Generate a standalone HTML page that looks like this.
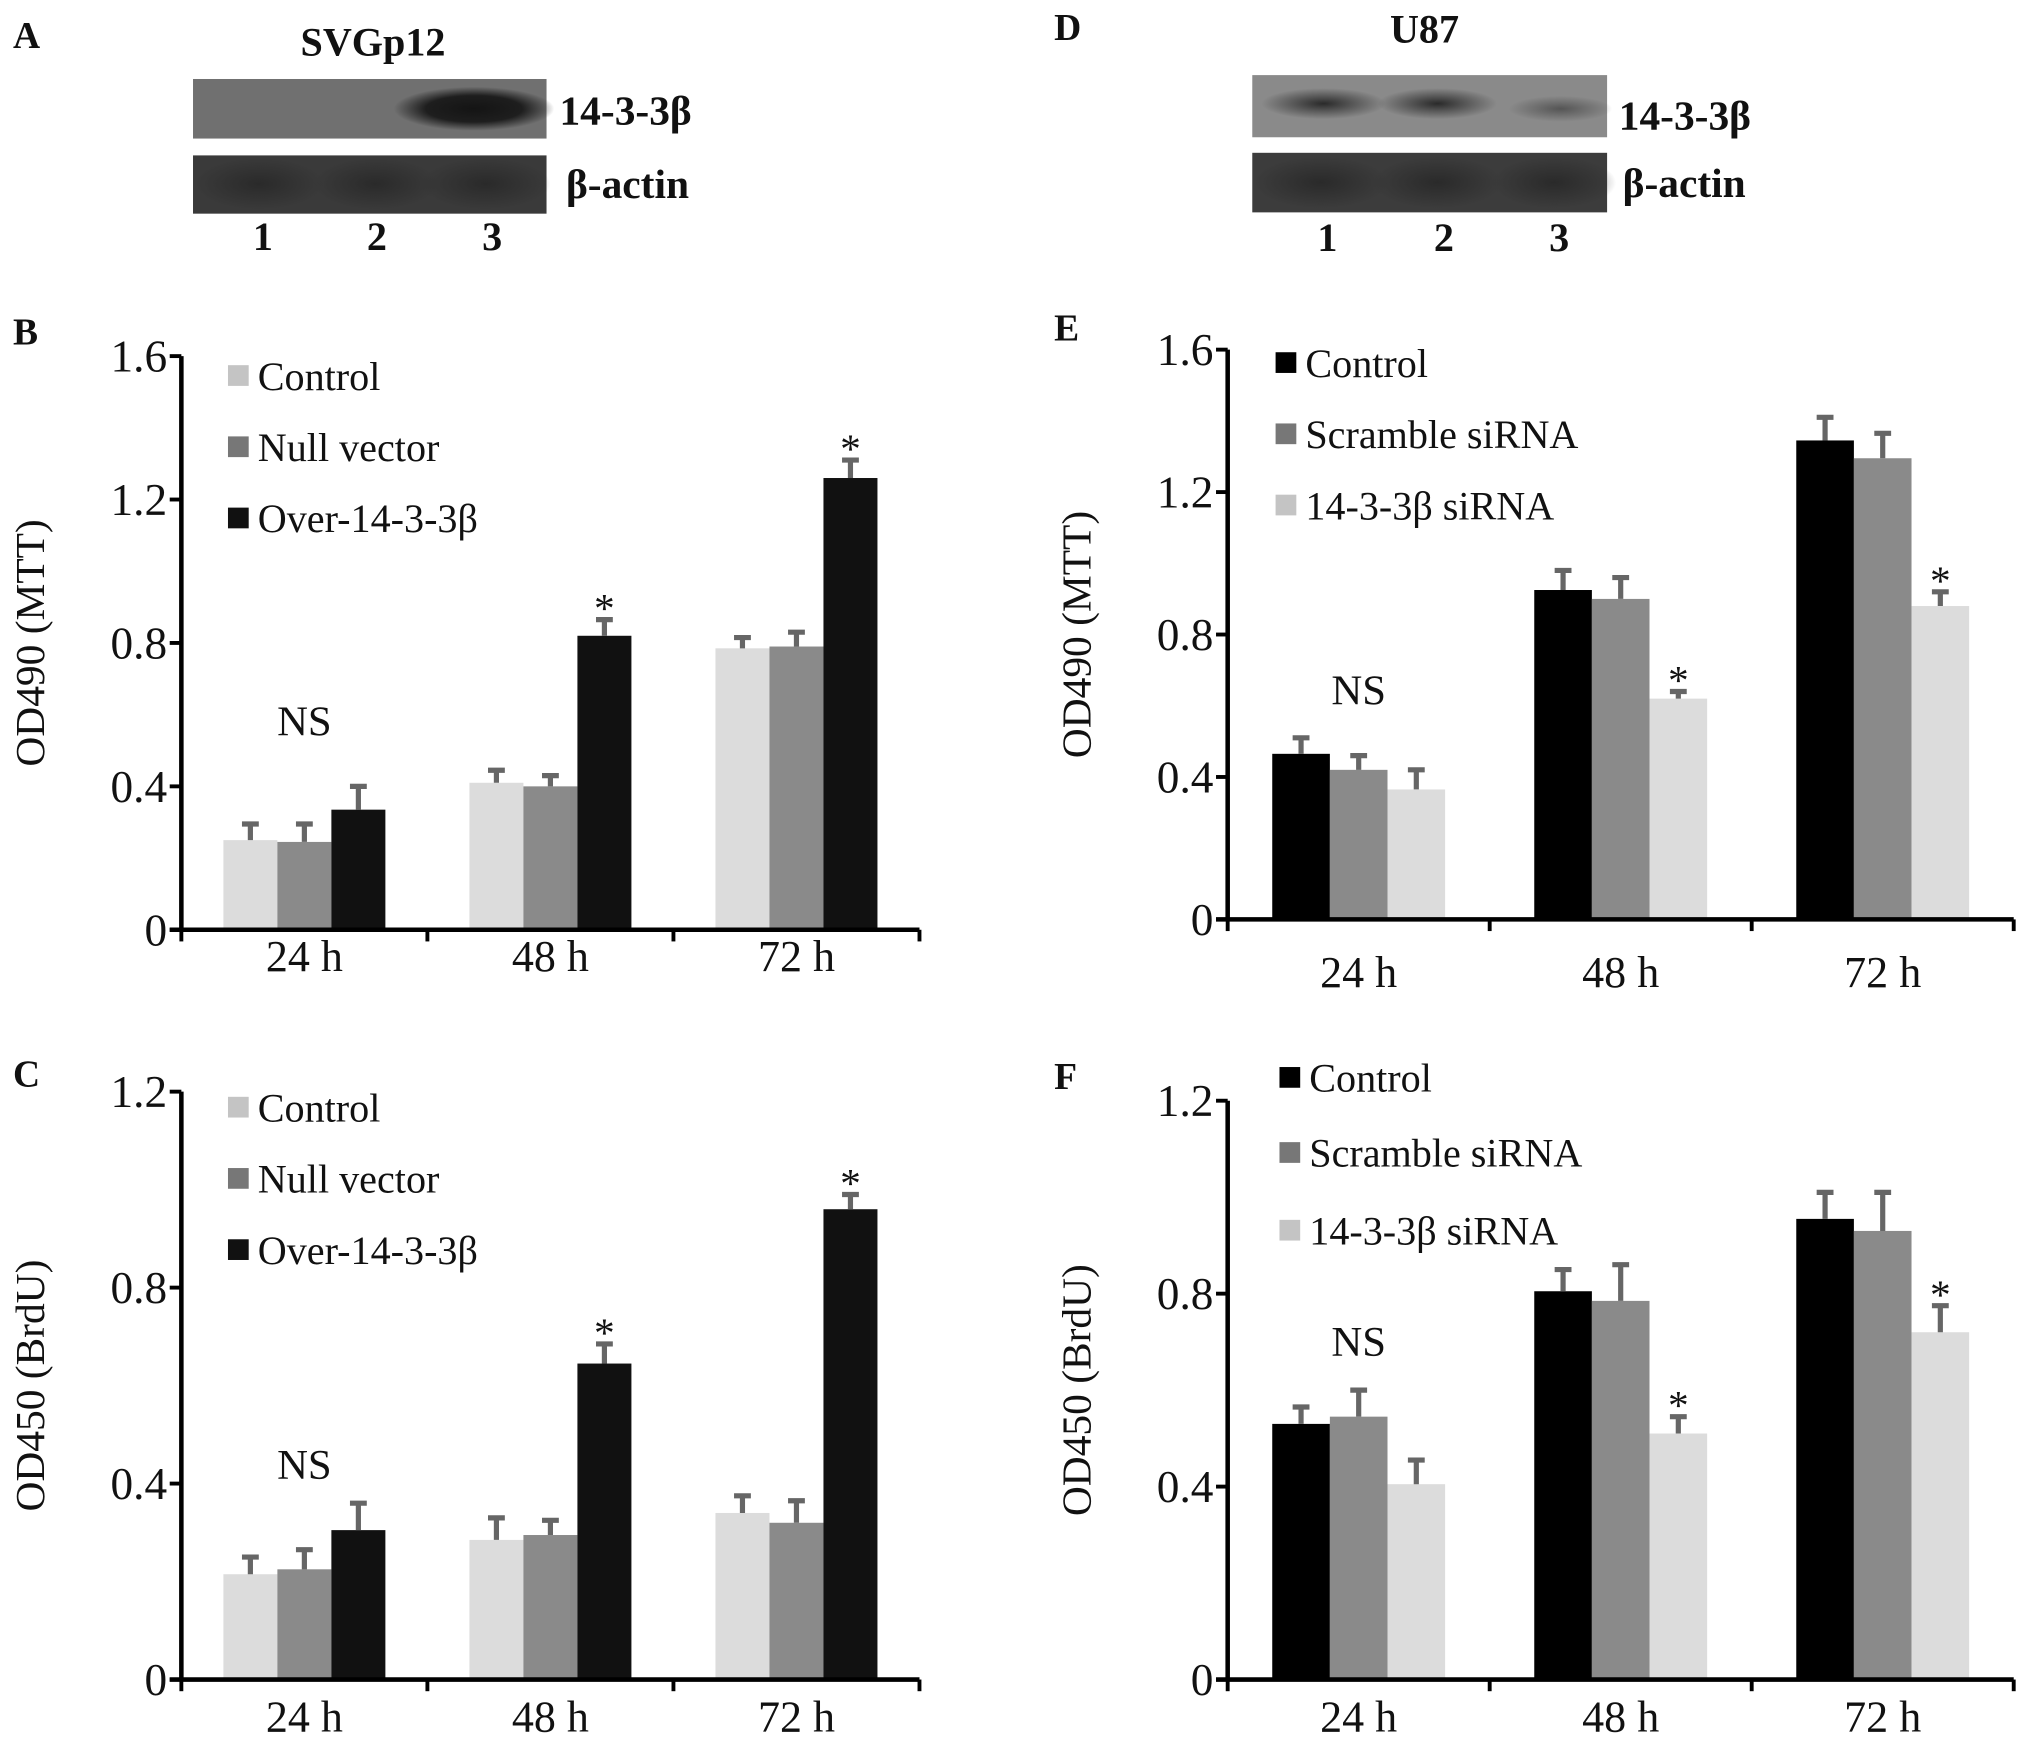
<!DOCTYPE html>
<html><head><meta charset="utf-8"><style>
html,body{margin:0;padding:0;background:#fff}
svg{display:block}
text{font-family:"Liberation Serif","DejaVu Serif",serif;fill:#111}
</style></head><body>
<svg id="fig" width="2031" height="1743" viewBox="0 0 1568.3 1346" xmlns="http://www.w3.org/2000/svg" font-family="Liberation Serif, serif">
<defs>
<radialGradient id="band" cx="50%" cy="50%" r="50%"><stop offset="0" stop-color="#141414"/><stop offset="0.6" stop-color="#1e1e1e"/><stop offset="1" stop-color="#1e1e1e" stop-opacity="0"/></radialGradient>
<radialGradient id="bandSoft" cx="50%" cy="50%" r="50%"><stop offset="0" stop-color="#2a2a2a"/><stop offset="1" stop-color="#2a2a2a" stop-opacity="0"/></radialGradient>
<radialGradient id="bandFaint" cx="50%" cy="50%" r="50%"><stop offset="0" stop-color="#555"/><stop offset="1" stop-color="#555" stop-opacity="0"/></radialGradient>
</defs>
<g>
<text x="10" y="37" font-size="29" font-weight="bold">A</text>
<text x="288" y="43" font-size="31" font-weight="bold" text-anchor="middle">SVGp12</text>
<rect x="149" y="61" width="273" height="46" fill="#707070"/>
<ellipse cx="366" cy="84" rx="62" ry="17" fill="url(#band)"/>
<rect x="149" y="120" width="273" height="45" fill="#3a3a3a"/>
<ellipse cx="200" cy="142" rx="50" ry="20" fill="url(#bandSoft)"/>
<ellipse cx="290" cy="142" rx="48" ry="20" fill="url(#bandSoft)"/>
<ellipse cx="375" cy="142" rx="50" ry="20" fill="url(#bandSoft)"/>
<text x="432" y="96" font-size="32" font-weight="bold">14-3-3β</text>
<text x="437" y="153" font-size="32" font-weight="bold">β-actin</text>
<text x="203" y="193" font-size="31" font-weight="bold" text-anchor="middle">1</text>
<text x="291" y="193" font-size="31" font-weight="bold" text-anchor="middle">2</text>
<text x="380" y="193" font-size="31" font-weight="bold" text-anchor="middle">3</text>
</g>
<g>
<text x="814" y="31" font-size="29" font-weight="bold">D</text>
<text x="1100" y="33" font-size="31" font-weight="bold" text-anchor="middle">U87</text>
<rect x="967" y="58" width="274" height="48" fill="#8a8a8a"/>
<ellipse cx="1022" cy="80" rx="48" ry="12" fill="url(#bandSoft)"/>
<ellipse cx="1110" cy="80" rx="46" ry="12" fill="url(#bandSoft)"/>
<ellipse cx="1205" cy="84" rx="40" ry="10" fill="url(#bandFaint)"/>
<rect x="967" y="118" width="274" height="46" fill="#3c3c3c"/>
<ellipse cx="1020" cy="141" rx="52" ry="20" fill="url(#bandSoft)"/>
<ellipse cx="1110" cy="141" rx="50" ry="20" fill="url(#bandSoft)"/>
<ellipse cx="1200" cy="141" rx="48" ry="20" fill="url(#bandSoft)"/>
<text x="1250" y="100" font-size="32" font-weight="bold">14-3-3β</text>
<text x="1253" y="152" font-size="32" font-weight="bold">β-actin</text>
<text x="1025" y="194" font-size="31" font-weight="bold" text-anchor="middle">1</text>
<text x="1115" y="194" font-size="31" font-weight="bold" text-anchor="middle">2</text>
<text x="1204" y="194" font-size="31" font-weight="bold" text-anchor="middle">3</text>
</g>
<g id="charts"></g>
</svg>
<script>
const categories = ["24 h", "48 h", "72 h"];
const bSeriesNames = ["Control", "Null vector", "Over-14-3-3β"];
const bControl = [0.25, 0.41, 0.785];
const bNull = [0.245, 0.40, 0.79];
const bOver = [0.335, 0.82, 1.26];
const bControlErr = [0.045, 0.035, 0.03];
const bNullErr = [0.05, 0.03, 0.04];
const bOverErr = [0.065, 0.045, 0.05];
const bTicks = [0, 0.4, 0.8, 1.2, 1.6];

const cControl = [0.215, 0.285, 0.34];
const cNull = [0.225, 0.295, 0.32];
const cOver = [0.305, 0.645, 0.96];
const cControlErr = [0.035, 0.045, 0.035];
const cNullErr = [0.04, 0.03, 0.045];
const cOverErr = [0.055, 0.04, 0.03];
const cTicks = [0, 0.4, 0.8, 1.2];

const eSeriesNames = ["Control", "Scramble siRNA", "14-3-3β siRNA"];
const eControl = [0.465, 0.925, 1.345];
const eScramble = [0.42, 0.90, 1.295];
const eSiRNA = [0.365, 0.62, 0.88];
const eControlErr = [0.045, 0.055, 0.065];
const eScrambleErr = [0.04, 0.06, 0.07];
const eSiRNAErr = [0.055, 0.02, 0.04];
const eTicks = [0, 0.4, 0.8, 1.2, 1.6];

const fControl = [0.53, 0.805, 0.955];
const fScramble = [0.545, 0.785, 0.93];
const fSiRNA = [0.405, 0.51, 0.72];
const fControlErr = [0.035, 0.045, 0.055];
const fScrambleErr = [0.055, 0.075, 0.08];
const fSiRNAErr = [0.05, 0.035, 0.055];
const fTicks = [0, 0.4, 0.8, 1.2];

const NS = "http://www.w3.org/2000/svg";
const root = document.getElementById('charts');
function mk(tag, attrs, parent, txt){
  const e = document.createElementNS(NS, tag);
  for (const k in attrs) e.setAttribute(k, attrs[k]);
  if (txt !== undefined) e.textContent = txt;
  parent.appendChild(e);
  return e;
}
const LIGHT = "#dcdcdc", MID = "#8a8a8a", DARK = "#111";

function chart(cfg){
  const g = mk('g', {}, root);
  
  
  const y = v => cfg.y0 + (cfg.y1 - cfg.y0) * v / cfg.ymax;
  const gw = (cfg.xEnd - cfg.x0) / categories.length;
  const pl = mk('text', {x: cfg.labelX, y: cfg.labelY, 'font-size': 29, 'font-weight': 'bold'}, g, cfg.label);
  
  
  cfg.series.forEach((s, si) => {
    categories.forEach((c, ci) => {
      const cx = cfg.x0 + gw * (ci + 0.5);
      const bx = cx - cfg.bw * 1.5 + si * cfg.bw;
      const v = s.vals[ci], e = s.err[ci];
      const r = mk('rect', {x: bx, y: y(v), width: cfg.bw, height: y(0) - y(v), fill: s.color}, g);
      
      
      const mx = bx + cfg.bw / 2;
      const eb = mk('path', {d: `M${mx},${y(v)}V${y(v + e)}M${mx - 6.5},${y(v + e)}H${mx + 6.5}`, stroke: '#666', 'stroke-width': 4, fill: 'none'}, g);
      
      
      if (s.star && s.star[ci]) {
        const st = mk('text', {x: mx, y: y(v + e) + 2, 'font-size': 32, 'text-anchor': 'middle'}, g, '*');
        
        
      }
    });
  });
  const ns = mk('text', {x: cfg.x0 + gw * 0.5, y: cfg.nsY, 'font-size': 33, 'text-anchor': 'middle'}, g, 'NS');
  
  
  const ya = mk('path', {d: `M${cfg.x0},${y(cfg.ymax)}V${y(0)}`, stroke: '#000', 'stroke-width': 3.5}, g);
  
  
  const xa = mk('path', {d: `M${cfg.x0 - 9},${y(0)}H${cfg.xEnd}`, stroke: '#000', 'stroke-width': 3.5}, g);
  
  
  cfg.ticks.forEach(t => {
    mk('path', {d: `M${cfg.x0 - 9},${y(t)}H${cfg.x0}`, stroke: '#000', 'stroke-width': 3}, g);
    const tl = mk('text', {x: cfg.x0 - 11, y: y(t) + 12, 'font-size': 35, 'text-anchor': 'end'}, g, String(t));
    
    
  });
  for (let i = 0; i <= categories.length; i++) {
    const tx = cfg.x0 + gw * i;
    mk('path', {d: `M${tx},${y(0)}V${y(0) + 9}`, stroke: '#000', 'stroke-width': 3}, g);
  }
  categories.forEach((c, ci) => {
    const cl = mk('text', {x: cfg.x0 + gw * (ci + 0.5), y: y(0) + cfg.catDy, 'font-size': 34, 'text-anchor': 'middle'}, g, c);
    
    
  });
  const cy = (y(0) + y(cfg.ymax)) / 2;
  const yt = mk('text', {x: cfg.titleX, y: cy, 'font-size': 32, 'text-anchor': 'middle', transform: `rotate(-90 ${cfg.titleX} ${cy})`}, g, cfg.title);
  
  
  cfg.series.forEach((s, si) => {
    const ly = cfg.legY[si];
    const lg = mk('g', {}, g);
    
    
    mk('rect', {x: cfg.legX, y: ly - 8, width: 16, height: 16, fill: s.legColor || s.color}, lg);
    mk('text', {x: cfg.legX + 23, y: ly + 11, 'font-size': 31}, lg, s.name);
  });
}

chart({name:'chart-b-mtt', label:'B', labelX:10, labelY:266, x0:140, xEnd:710, y0:718, y1:275, ymax:1.6, bw:41.7,
  ticks:bTicks, title:'OD490 (MTT)', titleX:34, nsY:568, catDy:32, legX:176, legY:[290,345,400],
  series:[
   {key:'control', name:bSeriesNames[0], vals:bControl, err:bControlErr, color:LIGHT, legColor:'#c4c4c4'},
   {key:'null-vector', name:bSeriesNames[1], vals:bNull, err:bNullErr, color:MID, legColor:'#777'},
   {key:'over', name:bSeriesNames[2], vals:bOver, err:bOverErr, color:DARK, star:[0,1,1]}]});
chart({name:'chart-c-brdu', label:'C', labelX:10, labelY:839, x0:140, xEnd:710, y0:1297, y1:843, ymax:1.2, bw:41.7,
  ticks:cTicks, title:'OD450 (BrdU)', titleX:34, nsY:1142, catDy:40, legX:176, legY:[855,910,965],
  series:[
   {key:'control', name:bSeriesNames[0], vals:cControl, err:cControlErr, color:LIGHT, legColor:'#c4c4c4'},
   {key:'null-vector', name:bSeriesNames[1], vals:cNull, err:cNullErr, color:MID, legColor:'#777'},
   {key:'over', name:bSeriesNames[2], vals:cOver, err:cOverErr, color:DARK, star:[0,1,1]}]});
chart({name:'chart-e-mtt', label:'E', labelX:814, labelY:263, x0:948, xEnd:1555, y0:710, y1:270, ymax:1.6, bw:44.5,
  ticks:eTicks, title:'OD490 (MTT)', titleX:842, nsY:544, catDy:52, legX:985, legY:[280,335,390],
  series:[
   {key:'control', name:eSeriesNames[0], vals:eControl, err:eControlErr, color:'#000'},
   {key:'scramble', name:eSeriesNames[1], vals:eScramble, err:eScrambleErr, color:MID, legColor:'#777'},
   {key:'sirna', name:eSeriesNames[2], vals:eSiRNA, err:eSiRNAErr, color:LIGHT, legColor:'#c4c4c4', star:[0,1,1]}]});
chart({name:'chart-f-brdu', label:'F', labelX:814, labelY:841, x0:948, xEnd:1555, y0:1297, y1:850, ymax:1.2, bw:44.5,
  ticks:fTicks, title:'OD450 (BrdU)', titleX:842, nsY:1047, catDy:40, legX:988, legY:[832,890,950],
  series:[
   {key:'control', name:eSeriesNames[0], vals:fControl, err:fControlErr, color:'#000'},
   {key:'scramble', name:eSeriesNames[1], vals:fScramble, err:fScrambleErr, color:MID, legColor:'#777'},
   {key:'sirna', name:eSeriesNames[2], vals:fSiRNA, err:fSiRNAErr, color:LIGHT, legColor:'#c4c4c4', star:[0,1,1]}]});
</script>
</body></html>
